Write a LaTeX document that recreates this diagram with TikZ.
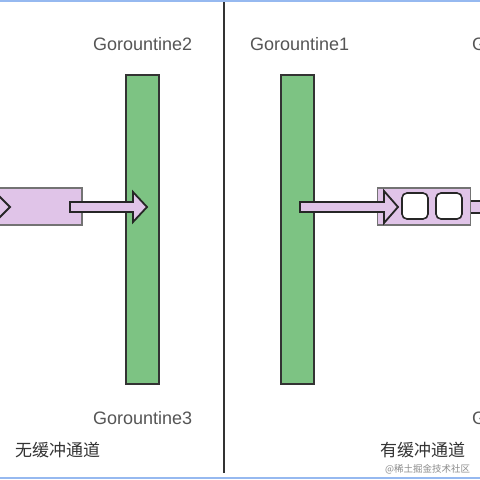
\documentclass[tikz,border=0pt]{standalone}
\usepackage{fontspec}
\setmainfont{Liberation Sans}
\newfontfamily\cjk{Noto Sans CJK SC}
\usepackage{tikz}

\definecolor{barfill}{RGB}{125,195,131}
\definecolor{chanfill}{RGB}{224,196,232}
\definecolor{labelgray}{RGB}{85,85,85}
\definecolor{edgeblue}{RGB}{150,185,240}

\tikzset{
    bar/.style={draw=black!80,fill=barfill,line width=2pt,minimum width=33pt,minimum height=309pt,inner sep=0pt},
    chan/.style={draw=black!55,fill=chanfill,line width=1.2pt,inner sep=0pt},
    pipe/.style={draw=black!85,fill=chanfill,line width=1.8pt,line join=miter},
    slot/.style={draw=black!85,fill=white,line width=1.6pt,rounded corners=5pt,minimum size=26pt,inner sep=0pt},
    glabel/.style={text=labelgray,font=\fontsize{18}{20}\selectfont,anchor=west,inner sep=0pt},
    clabel/.style={text=black!80,font=\cjk\fontsize{17}{19}\selectfont,anchor=west,inner sep=0pt}
}

\begin{document}
\begin{tikzpicture}[x=1pt,y=-1pt]
            \useasboundingbox (0,0) rectangle (480,480);
            \clip (0,0) rectangle (480,480);
            \fill[white] (0,0) rectangle (480,480);

            \begin{scope}
                \node[bar] (b2) at (142.5,229.5) {};
                \node[bar] (b1) at (297.5,229.5) {};

                \node[chan,minimum width=102pt,minimum height=37pt] (c1) at (31,206.5) {};
                \node[chan,minimum width=93pt,minimum height=37pt] (c2) at (424,206.5) {};

                \node[slot] (s1) at (415,206) {};
                \node[slot] (s2) at (449,206) {};
            \end{scope}

            \draw[pipe] (-20,202) -- (-5,202) -- (-5,192) -- (10,207) -- (-5,222) -- (-5,212) -- (-20,212) -- cycle;
            \draw[pipe] (70,202) -- (133,202) -- (133,192) -- (147,207) -- (133,222) -- (133,212) -- (70,212) -- cycle;
            \draw[pipe] (300,202) -- (384,202) -- (384,191) -- (398,207) -- (384,223) -- (384,212) -- (300,212) -- cycle;
            \draw[pipe] (c2.east |- 0,201) -- (490,201) -- (490,213) -- (c2.east |- 0,213);

            \draw[black!80,line width=2.5pt] (224,0) -- (224,473);
            \draw[edgeblue,line width=1.5pt] (0,0.8) -- (480,0.8);
            \draw[edgeblue,line width=2pt] (0,478) -- (480,478);

            \begin{scope}
                \node[glabel] (g2) at (93,44) {Gorountine2};
                \node[glabel] (g1) at (250,44) {Gorountine1};
                \node[glabel] (g2r) at (472,44) {Gorountine2};
                \node[glabel] (g3) at (93,418) {Gorountine3};
                \node[glabel] (g3r) at (472,418) {Gorountine3};
                \node[clabel] (t1) at (15,450) {无缓冲通道};
                \node[clabel] (t2) at (380,450) {有缓冲通道};
                \node[text=black!45,font=\cjk\fontsize{9.5}{11}\selectfont,anchor=west,inner sep=0pt] (wm) at (385,469) {@稀土掘金技术社区};
            \end{scope}
        \end{tikzpicture}
\end{document}
